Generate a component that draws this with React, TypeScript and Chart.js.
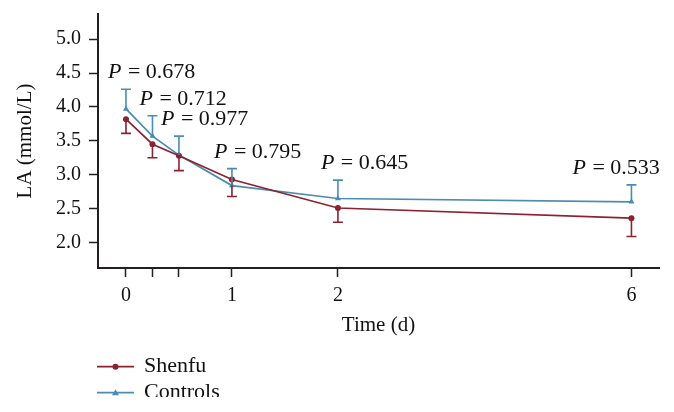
import React, { useEffect, useRef } from "react";
import { Chart, registerables } from "chart.js";

Chart.register(...registerables);

// ---- data ----
const timeLabels = ["0", "", "", "1", "2", "6"];
const timeAxisPos = [0, 0.25, 0.5, 1, 2, 4.77];
const shenfuMean = [3.82, 3.45, 3.28, 2.93, 2.51, 2.36];
const shenfuSD = [0.21, 0.2, 0.22, 0.25, 0.21, 0.27];
const controlsMean = [3.97, 3.57, 3.29, 2.84, 2.65, 2.6];
const controlsSD = [0.29, 0.3, 0.28, 0.25, 0.27, 0.25];
const pValues = ["0.678", "0.712", "0.977", "0.795", "0.645", "0.533"];
const yTicks = [2.0, 2.5, 3.0, 3.5, 4.0, 4.5, 5.0];
const seriesNames = ["Shenfu", "Controls"];

// ---- style ----
const FONT = "'Liberation Serif', 'Times New Roman', serif";
const AXIS = "#231f20";
const RED = "#8c2131";
const BLUE = "#4a8db3";
const pLabelDx = [-18, -13, -18, -18, -17, -59];

const errorBarPlugin = {
  id: "errorBars",
  afterDatasetsDraw(chart: any) {
    const { ctx } = chart;
    const y = chart.scales.y;
    const sets = [
      { mean: shenfuMean, sd: shenfuSD, dir: -1, color: RED },
      { mean: controlsMean, sd: controlsSD, dir: 1, color: BLUE },
    ];
    sets.forEach((s, di) => {
      const meta = chart.getDatasetMeta(di);
      ctx.save();
      ctx.strokeStyle = s.color;
      ctx.lineWidth = 1.6;
      meta.data.forEach((pt: any, i: number) => {
        const yEnd = y.getPixelForValue(s.mean[i] + s.dir * s.sd[i]);
        ctx.beginPath();
        ctx.moveTo(pt.x, pt.y);
        ctx.lineTo(pt.x, yEnd);
        ctx.moveTo(pt.x - 5, yEnd);
        ctx.lineTo(pt.x + 5, yEnd);
        ctx.stroke();
      });
      ctx.restore();
    });
  },
};

const pLabelPlugin = {
  id: "pLabels",
  afterDatasetsDraw(chart: any) {
    const { ctx } = chart;
    const y = chart.scales.y;
    const meta = chart.getDatasetMeta(1);
    ctx.save();
    ctx.fillStyle = "#111";
    ctx.textBaseline = "alphabetic";
    ctx.textAlign = "left";
    meta.data.forEach((pt: any, i: number) => {
      const capY = y.getPixelForValue(controlsMean[i] + controlsSD[i]);
      const bx = pt.x + pLabelDx[i];
      const by = capY - 11;
      ctx.font = `italic 22px ${FONT}`;
      ctx.fillText("P", bx, by);
      const w = ctx.measureText("P").width;
      ctx.font = `22px ${FONT}`;
      ctx.fillText(" = " + pValues[i], bx + w + 1, by);
    });
    ctx.restore();
  },
};

const legendPlugin = {
  id: "customLegend",
  afterDraw(chart: any) {
    const { ctx } = chart;
    ctx.save();
    ctx.beginPath();
    ctx.rect(0, 0, chart.width, 397);
    ctx.clip();
    const colors = [RED, BLUE];
    const styles = ["circle", "triangle"];
    seriesNames.forEach((name, i) => {
      const ly = 366.7 + i * 26;
      const x0 = 97;
      const x1 = x0 + 37;
      ctx.strokeStyle = colors[i];
      ctx.fillStyle = colors[i];
      ctx.lineWidth = 1.7;
      ctx.beginPath();
      ctx.moveTo(x0, ly);
      ctx.lineTo(x1, ly);
      ctx.stroke();
      const cx = (x0 + x1) / 2;
      ctx.beginPath();
      if (styles[i] === "circle") {
        ctx.arc(cx, ly, 3, 0, Math.PI * 2);
      } else {
        ctx.moveTo(cx, ly - 3.5);
        ctx.lineTo(cx + 3.5, ly + 2.5);
        ctx.lineTo(cx - 3.5, ly + 2.5);
        ctx.closePath();
      }
      ctx.fill();
      ctx.fillStyle = "#111";
      ctx.font = `22px ${FONT}`;
      ctx.textBaseline = "middle";
      ctx.textAlign = "left";
      ctx.fillText(name, x1 + 10, ly);
    });
    ctx.restore();
  },
};

export default function App() {
  const ref = useRef<HTMLCanvasElement | null>(null);

  useEffect(() => {
    document.body.style.margin = "0";
    if (!ref.current) return;
    const chart = new Chart(ref.current, {
      type: "line",
      data: {
        datasets: [
          {
            label: seriesNames[0],
            data: timeAxisPos.map((x, i) => ({ x, y: shenfuMean[i] })),
            borderColor: RED,
            backgroundColor: RED,
            borderWidth: 1.7,
            pointStyle: "circle",
            pointRadius: 3,
            pointBorderWidth: 0,
            tension: 0,
          },
          {
            label: seriesNames[1],
            data: timeAxisPos.map((x, i) => ({ x, y: controlsMean[i] })),
            borderColor: BLUE,
            backgroundColor: BLUE,
            borderWidth: 1.7,
            pointStyle: "triangle",
            pointRadius: 3.5,
            pointBorderWidth: 0,
            tension: 0,
          },
        ],
      },
      options: {
        animation: false,
        responsive: false,
        layout: { padding: { top: 14, right: 15, bottom: 74, left: 0 } },
        plugins: {
          legend: { display: false },
          tooltip: { enabled: false },
        },
        scales: {
          x: {
            type: "linear",
            min: -0.264,
            max: 5.03,
            afterBuildTicks: (s: any) => {
              s.ticks = timeAxisPos.map((v) => ({ value: v }));
            },
            afterFit: (s: any) => {
              s.height = 70;
              s.paddingLeft = 0;
              s.paddingRight = 0;
            },
            ticks: {
              callback: (_v: any, i: number) => timeLabels[i],
              autoSkip: false,
              maxRotation: 0,
              padding: 7,
              color: "#111",
              font: { family: FONT, size: 20 },
            },
            grid: {
              drawOnChartArea: false,
              drawTicks: true,
              tickLength: 9,
              tickWidth: 1.5,
              tickColor: AXIS,
            },
            border: { color: AXIS, width: 2 },
            title: {
              display: true,
              text: "Time (d)",
              color: "#111",
              font: { family: FONT, size: 21 },
              padding: 0,
            },
          },
          y: {
            type: "linear",
            min: 1.625,
            max: 5.37,
            afterBuildTicks: (s: any) => {
              s.ticks = yTicks.map((v) => ({ value: v }));
            },
            afterFit: (s: any) => {
              s.width = 98;
              s.paddingTop = 0;
              s.paddingBottom = 0;
            },
            ticks: {
              callback: (v: any) => Number(v).toFixed(1),
              padding: 8,
              color: "#111",
              font: { family: FONT, size: 20 },
            },
            grid: {
              drawOnChartArea: false,
              drawTicks: true,
              tickLength: 9,
              tickWidth: 1.5,
              tickColor: AXIS,
            },
            border: { color: AXIS, width: 2 },
            title: {
              display: true,
              text: "LA (mmol/L)",
              color: "#111",
              font: { family: FONT, size: 21 },
              padding: { top: 13, bottom: 0 },
            },
          },
        },
      },
      plugins: [errorBarPlugin, pLabelPlugin, legendPlugin],
    });
    return () => chart.destroy();
  }, []);

  return (
    <div style={{ width: 674, height: 412, background: "#fff" }}>
      <canvas ref={ref} width={674} height={412} style={{ display: "block", width: 674, height: 412 }} />
    </div>
  );
}
